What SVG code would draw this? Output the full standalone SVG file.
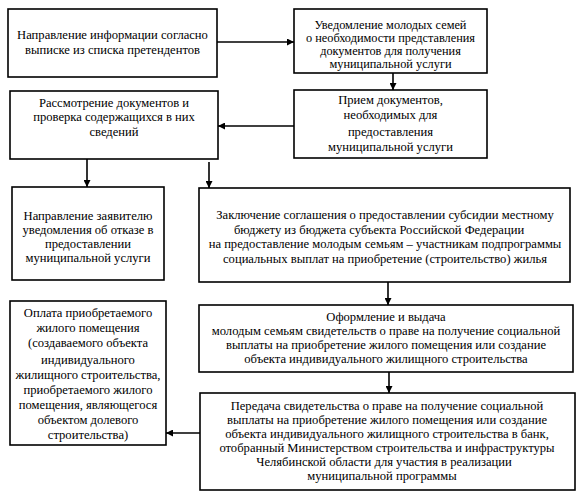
<svg xmlns="http://www.w3.org/2000/svg" width="582" height="498" viewBox="0 0 582 498">
<defs>
<marker id="ah" viewBox="0 0 10 10" refX="10" refY="5" markerWidth="7" markerHeight="7" markerUnits="userSpaceOnUse" orient="auto">
<path d="M0,0 L10,5 L0,10 z" fill="#000"/>
</marker>
</defs>
<style>
rect{fill:#fff;stroke:#000;stroke-width:1.6}
text{font-family:"Liberation Serif","Times New Roman",serif;font-size:12.6px;fill:#000;text-anchor:middle}
.s{font-size:12.3px}
.c{stroke:#000;stroke-width:1.6;fill:none;marker-end:url(#ah)}
</style>
<rect width="582" height="498" style="fill:#fff;stroke:none"/>
<g id="n1"><rect x="8" y="9" width="209" height="68"/>
<text x="112.5" y="39">Направление информации согласно</text>
<text x="112.5" y="54">выписке из списка претендентов</text></g>
<g id="n2"><rect x="294" y="9" width="193" height="64"/>
<text class="s" x="390.5" y="28.5">Уведомление молодых семей</text>
<text class="s" x="390.5" y="41.5">о необходимости представления</text>
<text class="s" x="390.5" y="54.5">документов для получения</text>
<text class="s" x="390.5" y="67.5">муниципальной услуги</text></g>
<g id="n3"><rect x="294" y="90" width="193" height="68"/>
<text x="390.5" y="104">Прием документов,</text>
<text x="390.5" y="119">необходимых для</text>
<text x="390.5" y="136">предоставления</text>
<text x="390.5" y="151">муниципальной услуги</text></g>
<g id="n4"><rect x="10" y="91" width="208" height="68"/>
<text x="114" y="107">Рассмотрение документов и</text>
<text x="114" y="121">проверка содержащихся в них</text>
<text x="114" y="136">сведений</text></g>
<g id="n5"><rect x="12" y="187" width="152" height="93"/>
<text x="88" y="220">Направление заявителю</text>
<text x="88" y="234">уведомления об отказе в</text>
<text x="88" y="248">предоставлении</text>
<text x="88" y="262">муниципальной услуги</text></g>
<g id="n6"><rect x="199" y="188" width="371" height="94"/>
<text x="385" y="219">Заключение соглашения о предоставлении субсидии местному</text>
<text x="379" y="233.5">бюджету из бюджета субъекта Российской Федерации</text>
<text x="385" y="248">на предоставление молодым семьям – участникам подпрограммы</text>
<text x="385" y="262.5">социальных выплат на приобретение (строительство) жилья</text></g>
<g id="n7"><rect x="10" y="301" width="156" height="144"/>
<text x="88" y="317">Оплата приобретаемого</text>
<text x="88" y="332">жилого помещения</text>
<text x="88" y="347">(создаваемого объекта</text>
<text x="88" y="364">индивидуального</text>
<text x="88" y="379">жилищного строительства,</text>
<text x="88" y="394">приобретаемого жилого</text>
<text x="88" y="409">помещения, являющегося</text>
<text x="88" y="424">объектом долевого</text>
<text x="88" y="439">строительства)</text></g>
<g id="n8"><rect x="199" y="305" width="374" height="67"/>
<text x="386" y="320.5">Оформление и выдача</text>
<text x="386" y="334.5">молодым семьям свидетельств о праве на получение социальной</text>
<text x="386" y="348.5">выплаты на приобретение жилого помещения или создание</text>
<text x="386" y="362.5">объекта индивидуального жилищного строительства</text></g>
<g id="n9"><rect x="200" y="393" width="375" height="97"/>
<text x="387" y="410">Передача свидетельства о праве на получение социальной</text>
<text x="387" y="424">выплаты на приобретение жилого помещения или создание</text>
<text x="387" y="438">объекта индивидуального жилищного строительства в банк,</text>
<text x="387" y="452">отобранный Министерством строительства и инфраструктуры</text>
<text x="384" y="466">Челябинской области для участия в реализации</text>
<text x="382" y="480">муниципальной программы</text></g>
<g id="connectors">
<line class="c" x1="217" y1="42" x2="294" y2="42"/>
<line class="c" x1="393" y1="73" x2="393" y2="90"/>
<line class="c" x1="294" y1="126" x2="218" y2="126"/>
<line class="c" x1="87" y1="159" x2="87" y2="187"/>
<line class="c" x1="209" y1="162" x2="209" y2="188"/>
<line class="c" x1="388" y1="282" x2="388" y2="305"/>
<line class="c" x1="389" y1="372" x2="389" y2="393"/>
<line class="c" x1="200" y1="433" x2="166" y2="433"/>
</g>
</svg>
